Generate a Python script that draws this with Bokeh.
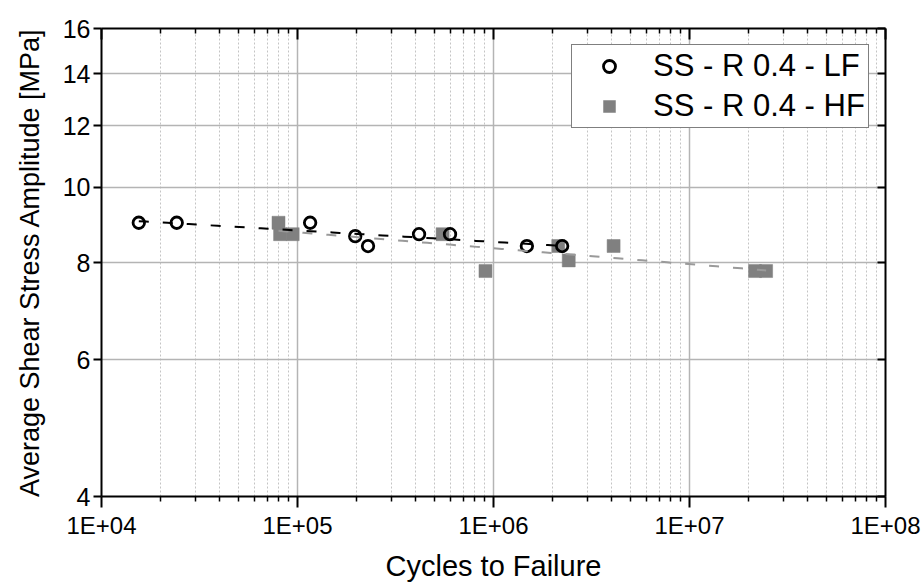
import numpy as np
from bokeh.plotting import figure
from bokeh.models import (FixedTicker, LogAxis, Legend, LegendItem,
                          PrintfTickFormatter, Range1d)
from bokeh.embed import file_html
from bokeh.resources import INLINE

# Low-frequency tests (open circles)
lf_cycles = [1.55e4, 2.42e4, 1.16e5, 1.97e5, 2.29e5, 4.17e5, 6.0e5, 1.48e6, 2.24e6]
lf_stress = [9.0, 9.0, 9.0, 8.65, 8.4, 8.7, 8.7, 8.4, 8.4]

# High-frequency tests (filled squares)
hf_cycles = [8.0e4, 8.15e4, 9.45e4, 5.5e5, 9.1e5, 2.14e6, 2.42e6, 4.1e6, 2.16e7, 2.46e7]
hf_stress = [9.0, 8.7, 8.7, 8.7, 7.8, 8.4, 8.05, 8.4, 7.8, 7.8]

lf_label = "SS - R 0.4 - LF"
hf_label = "SS - R 0.4 - HF"

x_ticks = [1e4, 1e5, 1e6, 1e7, 1e8]
x_tick_labels = ["1E+04", "1E+05", "1E+06", "1E+07", "1E+08"]
y_ticks = [4, 6, 8, 10, 12, 14, 16]

FONT = "Liberation Sans"


def power_fit(cycles, stress, n=60):
    """Least-squares power law S = A * N^b, evaluated over the data span."""
    lx = np.log10(cycles)
    b, a = np.polyfit(lx, np.log10(stress), 1)
    xs = np.logspace(lx.min(), lx.max(), n)
    return xs, 10 ** (a + b * np.log10(xs))


p = figure(width=921, height=585, x_axis_type="log", y_axis_type="log",
           x_range=Range1d(1e4, 1e8), y_range=Range1d(4, 16),
           output_backend="svg", toolbar_location=None,
           min_border_left=101, min_border_right=36,
           min_border_top=28, min_border_bottom=89)
p.outline_line_color = None
p.background_fill_color = "white"
p.border_fill_color = "white"

minor_x = [k * 10.0 ** d for d in range(4, 8) for k in range(2, 10)]
x_ticker = FixedTicker(ticks=x_ticks, minor_ticks=minor_x)
y_ticker = FixedTicker(ticks=y_ticks, minor_ticks=[])

# grid
p.xgrid.ticker = x_ticker
p.xgrid.grid_line_color = "#b4b4b4"
p.xgrid.grid_line_width = 1.5
p.xgrid.minor_grid_line_color = "#c4c4c4"
p.xgrid.minor_grid_line_dash = "2 2"
p.xgrid.minor_grid_line_width = 1
p.ygrid.ticker = y_ticker
p.ygrid.grid_line_color = "#b4b4b4"
p.ygrid.grid_line_width = 1.5

# bottom axis
xa = p.xaxis[0]
xa.ticker = x_ticker
xa.major_label_overrides = dict(zip(x_ticks, x_tick_labels))
xa.axis_label = "Cycles to Failure"
xa.axis_label_text_font = FONT
xa.axis_label_text_font_size = "29px"
xa.axis_label_text_font_style = "normal"
xa.axis_label_text_color = "black"
xa.axis_label_standoff = 8
xa.major_label_text_font = FONT
xa.major_label_text_font_size = "24px"
xa.major_label_text_color = "black"
xa.major_label_standoff = 4
xa.axis_line_width = 2
xa.major_tick_line_width = 2
xa.minor_tick_line_width = 1.5
xa.major_tick_out = 11
xa.major_tick_in = 0
xa.minor_tick_out = 5
xa.minor_tick_in = 0

# left axis
ya = p.yaxis[0]
ya.ticker = y_ticker
ya.formatter = PrintfTickFormatter(format="%d")
ya.axis_label = "Average Shear Stress Amplitude [MPa]"
ya.axis_label_text_font = FONT
ya.axis_label_text_font_size = "27px"
ya.axis_label_text_font_style = "normal"
ya.axis_label_text_color = "black"
ya.axis_label_standoff = 15
ya.major_label_text_font = FONT
ya.major_label_text_font_size = "25px"
ya.major_label_text_color = "black"
ya.major_label_standoff = 3
ya.axis_line_width = 2
ya.major_tick_line_width = 2
ya.major_tick_out = 8
ya.major_tick_in = 0
ya.minor_tick_line_color = None

# mirrored top and right axes, ticks pointing inward, no labels
top = LogAxis(ticker=x_ticker, axis_line_width=2, major_tick_line_width=2,
              minor_tick_line_width=1.5, major_tick_in=11, major_tick_out=0,
              minor_tick_in=5, minor_tick_out=0,
              major_label_text_color=None, major_label_text_font_size="1px",
              major_label_standoff=0)
right = LogAxis(ticker=y_ticker, axis_line_width=2, major_tick_line_width=2,
                major_tick_in=8, major_tick_out=0, minor_tick_line_color=None,
                major_label_text_color=None, major_label_text_font_size="1px",
                major_label_standoff=0)
p.add_layout(top, "above")
p.add_layout(right, "right")

# data
r_hf = p.scatter(hf_cycles, hf_stress, marker="square", size=13,
                 fill_color="#808080", line_color="#808080", line_width=0.5)
r_lf = p.scatter(lf_cycles, lf_stress, marker="circle", size=11.5,
                 fill_color=None, line_color="black", line_width=2.8)

# power-law trend lines
hx, hy = power_fit(hf_cycles, hf_stress)
lx, ly = power_fit(lf_cycles, lf_stress)
p.line(hx, hy, line_color="#9a9a9a", line_width=2, line_dash="10 14")
p.line(lx, ly, line_color="black", line_width=2, line_dash="10 14")

legend = Legend(items=[LegendItem(label=lf_label, renderers=[r_lf]),
                       LegendItem(label=hf_label, renderers=[r_hf])],
                location=(470, 368))
legend.label_text_font = FONT
legend.label_text_font_size = "31px"
legend.label_text_color = "black"
legend.glyph_width = 68
legend.glyph_height = 30
legend.label_height = 30
legend.label_standoff = 10
legend.padding = 3
legend.spacing = 4
legend.margin = 0
legend.border_line_color = "black"
legend.border_line_width = 1.5
legend.background_fill_color = "white"
legend.background_fill_alpha = 1
p.add_layout(legend)

open("out.html", "w").write(file_html(p, INLINE))
